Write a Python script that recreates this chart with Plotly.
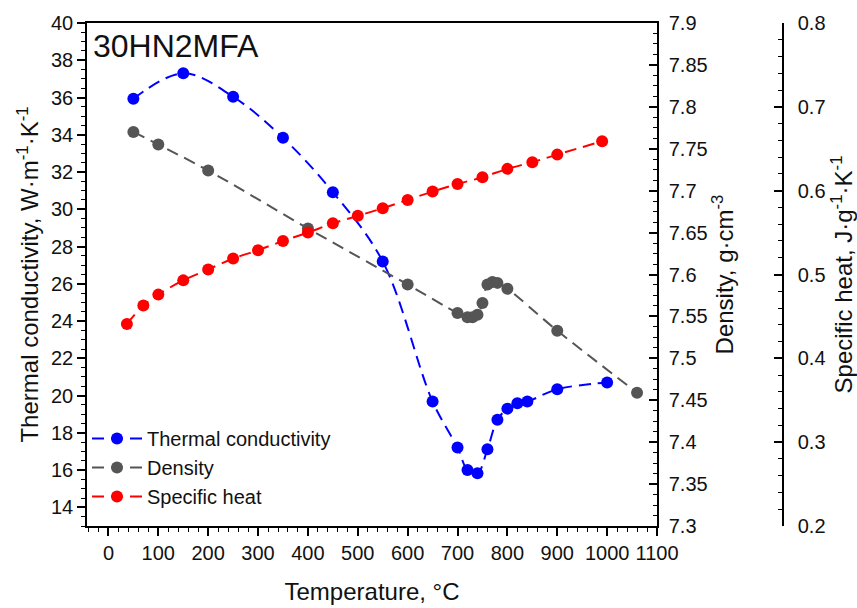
import plotly.graph_objects as go

# Thermal conductivity, W/(m K)
tc_T = [50, 150, 250, 350, 450, 550, 650, 700, 720, 740, 760, 780, 800, 820, 840, 900, 1000]
tc_v = [35.93, 37.30, 36.04, 33.84, 30.92, 27.20, 19.68, 17.21, 16.01, 15.83, 17.12, 18.70, 19.30, 19.59, 19.68, 20.34, 20.70]

# Density, g/cm3
de_T = [50, 100, 200, 400, 600, 700, 720, 730, 740, 750, 760, 770, 780, 800, 900, 1060]
de_v = [7.770, 7.755, 7.724, 7.655, 7.588, 7.554, 7.549, 7.549, 7.552, 7.566, 7.588, 7.591, 7.590, 7.583, 7.533, 7.459]

# Specific heat, J/(g K)
sh_T = [37, 70, 100, 150, 200, 250, 300, 350, 400, 450, 500, 550, 600, 650, 700, 750, 800, 850, 900, 990]
sh_v = [0.441, 0.463, 0.476, 0.493, 0.506, 0.519, 0.529, 0.540, 0.550, 0.561, 0.570, 0.579, 0.589, 0.599, 0.608, 0.616, 0.626, 0.634, 0.643, 0.659]

FONT = "Liberation Sans, Arial, sans-serif"
BLUE = "#0000FF"
GRAY = "#555555"
RED = "#FF0000"
DASH = "12px,7px"

fig = go.Figure()
fig.add_trace(go.Scatter(x=tc_T, y=tc_v, name="Thermal conductivity", mode="lines+markers",
                         line=dict(color=BLUE, width=2, dash=DASH, shape="spline", smoothing=1),
                         marker=dict(color=BLUE, size=12), yaxis="y"))
fig.add_trace(go.Scatter(x=de_T, y=de_v, name="Density", mode="lines+markers",
                         line=dict(color=GRAY, width=2, dash=DASH, shape="spline", smoothing=1),
                         marker=dict(color=GRAY, size=12), yaxis="y2"))
fig.add_trace(go.Scatter(x=sh_T, y=sh_v, name="Specific heat", mode="lines+markers",
                         line=dict(color=RED, width=2, dash=DASH, shape="spline", smoothing=1),
                         marker=dict(color=RED, size=12), yaxis="y3"))

W, H = 857, 608
L, R_, T_, B = 87, 74, 23, 82
plot_w = W - L - R_
main_right = 657
dom = (main_right - L) / plot_w

tickfont = dict(family=FONT, size=20, color="#111111")
titlefont = dict(family=FONT, size=24, color="#111111")

fig.update_layout(
    width=W, height=H,
    margin=dict(l=L, r=R_, t=T_, b=B, pad=0, autoexpand=False),
    paper_bgcolor="white", plot_bgcolor="white",
    font=dict(family=FONT, color="#111111"),
    showlegend=True,
    legend=dict(x=0.0, y=(526 - 419) / 503, xanchor="left", yanchor="top",
                font=dict(family=FONT, size=20, color="#111111"),
                bgcolor="rgba(0,0,0,0)", itemwidth=50, tracegroupgap=0),
    xaxis=dict(domain=[0, dom], range=[-43, 1100], dtick=100, tick0=0, automargin=False,
               showline=True, linecolor="black", linewidth=1.5, mirror=True,
               ticks="outside", ticklen=8, tickwidth=1.5, tickcolor="black",
               minor=dict(dtick=20, ticks="outside", ticklen=4, tickwidth=1.2, tickcolor="black"),
               showgrid=False, zeroline=False, tickfont=tickfont,
               title=dict(text="Temperature, °C", font=titlefont, standoff=20)),
    yaxis=dict(range=[13, 40], dtick=2, tick0=0, automargin=False,
               showline=True, linecolor="black", linewidth=1.5,
               ticks="outside", ticklen=8, tickwidth=1.5, tickcolor="black",
               minor=dict(dtick=0.5, ticks="outside", ticklen=4, tickwidth=1.2, tickcolor="black"),
               showgrid=False, zeroline=False, tickfont=tickfont,
               title=dict(text="Thermal conductivity, W·m<sup>-1</sup>·K<sup>-1</sup>", font=titlefont, standoff=6)),
    yaxis2=dict(range=[7.3, 7.9], dtick=0.05, tick0=7.3, overlaying="y", side="right", anchor="x", automargin=False,
                showline=True, linecolor="black", linewidth=1.5,
                ticks="inside", ticklen=8, tickwidth=1.5, tickcolor="black",
                minor=dict(dtick=0.0125, ticks="inside", ticklen=4, tickwidth=1.2, tickcolor="black"),
                showgrid=False, zeroline=False, tickfont=tickfont, ticklabelstandoff=6,
                title=dict(text="Density, g·cm<sup>-3</sup>", font=titlefont, standoff=8)),
    yaxis3=dict(range=[0.2, 0.8], dtick=0.1, tick0=0.2, overlaying="y", side="right", anchor="free", position=1.0,
                automargin=False,
                showline=True, linecolor="black", linewidth=1.5,
                ticks="inside", ticklen=8, tickwidth=1.5, tickcolor="black",
                minor=dict(dtick=0.02, ticks="inside", ticklen=4, tickwidth=1.2, tickcolor="black"),
                showgrid=False, zeroline=False, tickfont=tickfont, ticklabelstandoff=10,
                title=dict(text="Specific heat, J·g<sup>-1</sup>·K<sup>-1</sup>", font=titlefont, standoff=14)),
    annotations=[dict(text="30HN2MFA", xref="paper", yref="paper",
                      x=(91 - L) / plot_w, y=(526 - 46) / 503, xanchor="left", yanchor="middle",
                      showarrow=False, font=dict(family=FONT, size=32, color="#111111"))],
)

fig.write_html("out.html")
